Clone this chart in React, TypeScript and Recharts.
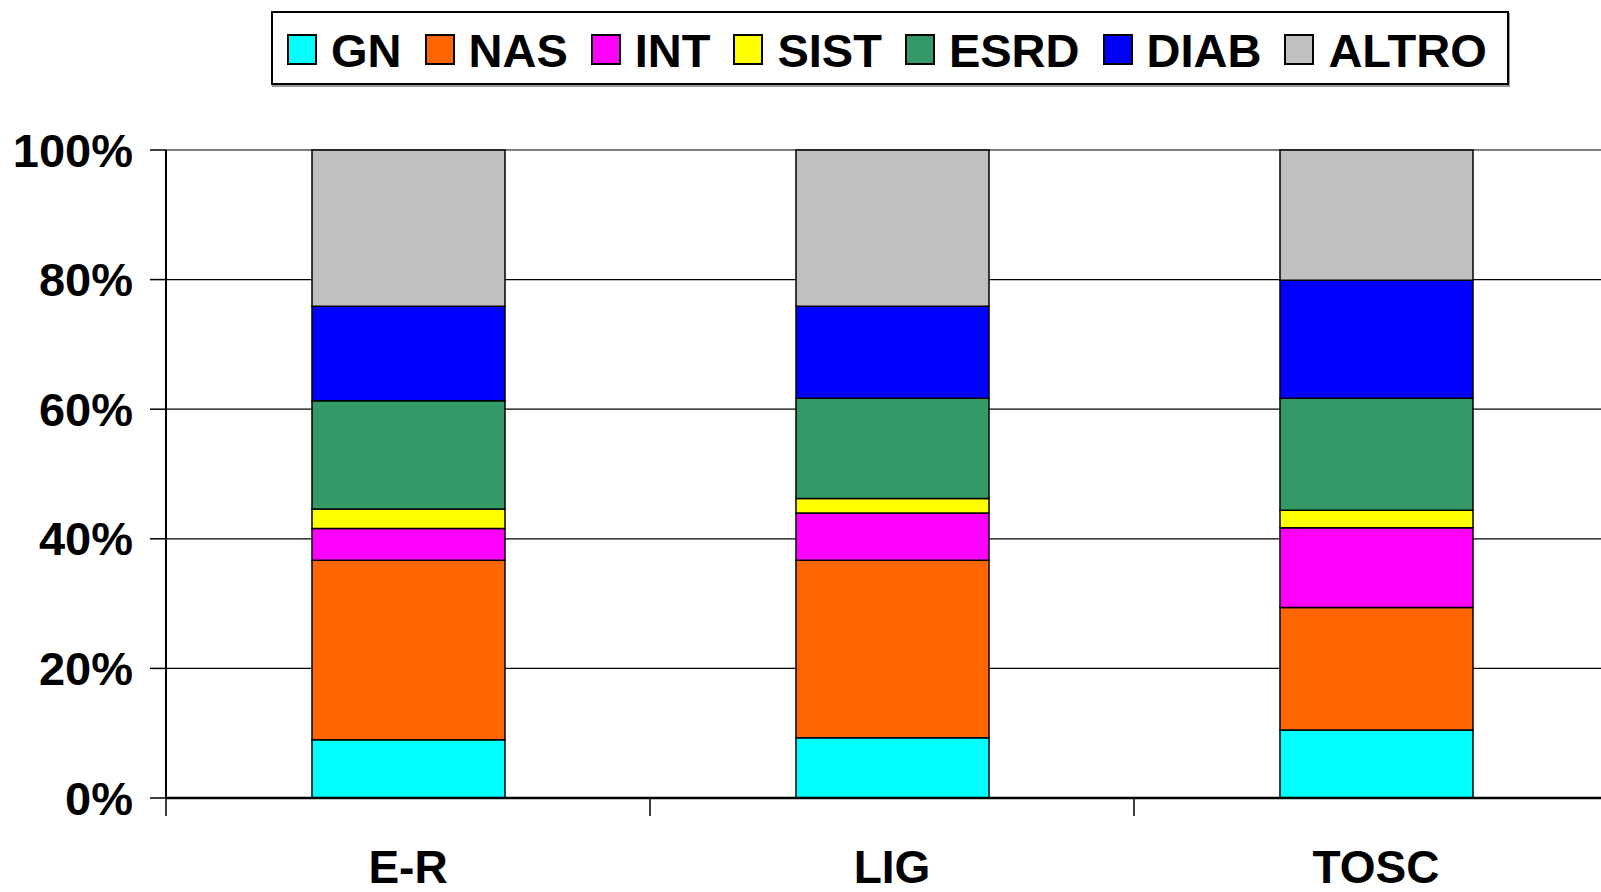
import { BarChart, Bar, XAxis, YAxis, CartesianGrid, Legend } from 'recharts'

const categories = ['E-R', 'LIG', 'TOSC']

// percentages, bottom to top
const gn    = [9.0, 9.3, 10.5]
const nas   = [27.7, 27.4, 18.9]
const int   = [4.9, 7.3, 12.3]
const sist  = [3.0, 2.2, 2.7]
const esrd  = [16.7, 15.5, 17.3]
const diab  = [14.6, 14.2, 18.2]
const altro = [24.1, 24.1, 20.1]

const yTicks = [0, 20, 40, 60, 80, 100]

const series = [
  { key: 'GN',    values: gn,    color: '#00FFFF' },
  { key: 'NAS',   values: nas,   color: '#FF6600' },
  { key: 'INT',   values: int,   color: '#FF00FF' },
  { key: 'SIST',  values: sist,  color: '#FFFF00' },
  { key: 'ESRD',  values: esrd,  color: '#339966' },
  { key: 'DIAB',  values: diab,  color: '#0000FF' },
  { key: 'ALTRO', values: altro, color: '#C0C0C0' },
]

const data = categories.map((name, i) => {
  const row: Record<string, string | number> = { name }
  series.forEach((s) => { row[s.key] = s.values[i] })
  return row
})

const FONT = '"Liberation Sans", Arial, sans-serif'

// label in the middle of the band, tick mark on the band's left edge (Excel style)
function CategoryTick(props: any) {
  const { x, y, payload, index, visibleTicksCount } = props
  const half = payload?.offset ?? 0
  const isLast = index === visibleTicksCount - 1
  return (
    <g>
      <line x1={x - half} x2={x - half} y1={y} y2={y + 18} stroke="#000" strokeWidth={1.5} />
      {isLast && (
        <line x1={x + half} x2={x + half} y1={y} y2={y + 18} stroke="#000" strokeWidth={1.5} />
      )}
      <text
        x={x}
        y={y + 52}
        dy="0.71em"
        textAnchor="middle"
        fill="#000"
        fontSize={46}
        fontWeight={700}
        fontFamily={FONT}
      >
        {payload.value}
      </text>
    </g>
  )
}

function LegendBox() {
  return (
    <div
      style={{
        display: 'flex',
        alignItems: 'center',
        gap: 23,
        boxSizing: 'border-box',
        height: 74,
        width: 1238,
        padding: '0 0 0 14px',
        border: '2px solid #000',
        boxShadow: '1px 2px 0 #999',
        background: '#fff',
        fontFamily: FONT,
        fontWeight: 700,
        fontSize: 47,
        color: '#000',
      }}
    >
      {series.map((s) => (
        <div key={s.key} style={{ display: 'flex', alignItems: 'center' }}>
          <span
            style={{
              width: 26,
              height: 27,
              marginRight: 14,
              marginTop: 3,
              background: s.color,
              border: '2px solid #000',
            }}
          />
          <span style={{ lineHeight: 1, marginTop: 4 }}>{s.key}</span>
        </div>
      ))}
    </div>
  )
}

export default function App() {
  return (
    <div
      style={{
        position: 'fixed',
        left: 0,
        top: 0,
        width: 1601,
        height: 892,
        overflow: 'hidden',
        background: '#fff',
      }}
    >
      <BarChart
        width={1640}
        height={892}
        data={data}
        margin={{ top: 150, right: 22, left: 0, bottom: 0 }}
      >
        <CartesianGrid vertical={false} stroke="#000" strokeWidth={1.2} />
        <XAxis
          dataKey="name"
          axisLine={{ stroke: '#000', strokeWidth: 2.5 }}
          tickLine={false}
          tickSize={0}
          tickMargin={0}
          height={94}
          interval={0}
          tick={<CategoryTick />}
        />
        <YAxis
          domain={[0, 100]}
          ticks={yTicks}
          width={166}
          axisLine={{ stroke: '#000', strokeWidth: 2 }}
          tickLine={{ stroke: '#000', strokeWidth: 1.5 }}
          tickSize={16}
          tickMargin={17}
          tickFormatter={(v) => `${v}%`}
          tick={{ fill: '#000', fontSize: 47, fontWeight: 700, fontFamily: FONT }}
        />
        <Legend
          layout="horizontal"
          verticalAlign="middle"
          align="center"
          wrapperStyle={{ position: 'absolute', left: 271, top: 11, width: 'auto', height: 'auto' }}
          content={() => <LegendBox />}
        />
        {series.map((s) => (
          <Bar
            key={s.key}
            dataKey={s.key}
            name={s.key}
            stackId="a"
            fill={s.color}
            stroke="#000"
            strokeWidth={1.5}
            barSize={193}
            isAnimationActive={false}
          />
        ))}
      </BarChart>
    </div>
  )
}
